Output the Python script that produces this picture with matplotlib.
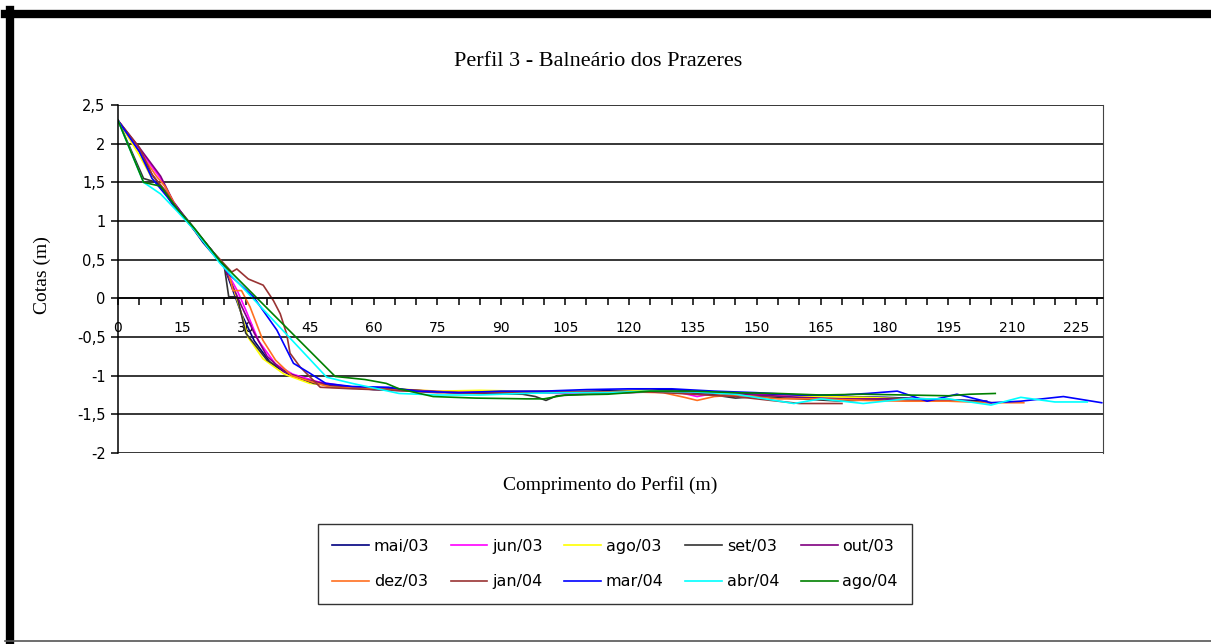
import matplotlib.pyplot as plt
from matplotlib.lines import Line2D

# dados (x em m, cota em m)
mai03_x = [0, 5, 8, 10, 13, 17, 20, 25, 27, 29, 32, 36, 40, 45, 50, 60, 70, 80, 90, 100, 110, 120, 130, 140, 150, 160, 170, 180, 190, 200, 204]
mai03_y = [2.3, 1.9, 1.6, 1.45, 1.2, 0.95, 0.72, 0.4, 0.1, -0.2, -0.55, -0.85, -0.98, -1.08, -1.13, -1.18, -1.2, -1.22, -1.22, -1.2, -1.2, -1.19, -1.18, -1.22, -1.24, -1.26, -1.27, -1.28, -1.3, -1.32, -1.33]

jun03_x = [0, 4, 8, 10, 13, 17, 21, 25, 27, 28, 30, 33, 37, 41, 47, 55, 65, 75, 85, 95, 105, 115, 125, 132, 136, 140, 150, 160]
jun03_y = [2.3, 2.0, 1.7, 1.55, 1.25, 0.95, 0.68, 0.4, 0.2, 0.1, -0.15, -0.55, -0.85, -0.98, -1.08, -1.15, -1.18, -1.2, -1.2, -1.22, -1.23, -1.22, -1.2, -1.22, -1.27, -1.23, -1.25, -1.27]

ago03_x = [0, 5, 8, 12, 17, 21, 25, 27, 29, 30.5, 34, 39, 45, 55, 65, 75, 85, 95, 105, 115, 125, 135, 145, 155, 165, 175, 185, 195]
ago03_y = [2.3, 1.85, 1.55, 1.3, 0.95, 0.68, 0.42, 0.15, -0.2, -0.5, -0.78, -0.98, -1.1, -1.15, -1.17, -1.2, -1.19, -1.2, -1.2, -1.21, -1.19, -1.22, -1.25, -1.27, -1.27, -1.28, -1.3, -1.3]

set03_x = [0, 6, 9, 12, 17, 22, 25, 26, 28, 30, 35, 40, 46, 55, 65, 75, 85, 95, 98, 100.5, 103, 110, 120, 130, 140, 145, 150, 160, 170, 180, 190, 200, 205]
set03_y = [2.3, 1.55, 1.5, 1.3, 0.97, 0.62, 0.4, 0.02, 0.02, -0.45, -0.8, -0.97, -1.1, -1.15, -1.17, -1.21, -1.23, -1.24, -1.27, -1.32, -1.26, -1.24, -1.21, -1.2, -1.25, -1.29, -1.27, -1.3, -1.33, -1.3, -1.32, -1.33, -1.35]

out03_x = [0, 5, 10, 13, 17, 22, 25, 27, 29, 32, 35, 39, 44, 50, 60, 70, 80, 90, 100, 110, 120, 130, 140, 150, 160, 170, 180, 190, 200]
out03_y = [2.3, 1.95, 1.58, 1.25, 0.95, 0.62, 0.4, 0.15, -0.1, -0.45, -0.75, -0.95, -1.05, -1.12, -1.17, -1.19, -1.22, -1.22, -1.22, -1.21, -1.22, -1.2, -1.23, -1.25, -1.28, -1.3, -1.3, -1.32, -1.33]

dez03_x = [0, 5, 9, 11, 14, 18, 22, 25.9, 27, 29, 31, 34, 37, 40.8, 46.7, 50, 60, 70, 80, 90, 100, 110, 120, 128, 133, 136, 140, 145, 155, 165, 175, 185, 195, 205, 212.7]
dez03_y = [2.3, 1.9, 1.58, 1.45, 1.15, 0.88, 0.62, 0.35, 0.1, 0.1, -0.11, -0.54, -0.8, -1.0, -1.1, -1.15, -1.17, -1.2, -1.22, -1.21, -1.2, -1.22, -1.21, -1.22, -1.28, -1.32, -1.27, -1.25, -1.3, -1.3, -1.32, -1.33, -1.33, -1.35, -1.35]

jan04_x = [0, 5, 8, 11, 14, 18, 22, 26.7, 27.9, 30.6, 34.1, 36.5, 38.1, 39.6, 40.4, 42.8, 47.5, 55, 65, 75, 85, 95, 105, 115, 125, 135, 145, 155, 160, 170]
jan04_y = [2.3, 1.95, 1.6, 1.4, 1.15, 0.88, 0.62, 0.34, 0.38, 0.25, 0.17, -0.03, -0.2, -0.46, -0.71, -0.89, -1.15, -1.17, -1.19, -1.22, -1.22, -1.21, -1.21, -1.22, -1.21, -1.24, -1.27, -1.33, -1.36, -1.36]

mar04_x = [0, 5, 8, 11, 14, 18, 22, 26.3, 31.8, 37.3, 41.2, 45.1, 48.8, 55, 63.5, 70, 80, 90, 100, 110, 120, 130, 140, 150, 160, 170, 176, 183, 190, 197, 205, 212, 222, 231]
mar04_y = [2.3, 1.9, 1.55, 1.35, 1.15, 0.88, 0.62, 0.3, 0.02, -0.41, -0.84, -0.97, -1.1, -1.14, -1.15, -1.2, -1.22, -1.2, -1.2, -1.18, -1.17, -1.17, -1.2, -1.22, -1.25, -1.25, -1.23, -1.2, -1.33, -1.24, -1.35, -1.33, -1.27, -1.35]

abr04_x = [0, 6, 10, 14, 18, 24, 49, 55, 66, 75, 85, 95, 105, 115, 125, 135, 145, 152, 158.7, 165, 175, 185, 195, 205, 212, 220, 227.6]
abr04_y = [2.3, 1.5, 1.35, 1.12, 0.88, 0.45, -1.02, -1.1, -1.23, -1.25, -1.25, -1.23, -1.22, -1.22, -1.2, -1.21, -1.24, -1.3, -1.36, -1.3, -1.36, -1.3, -1.3, -1.38, -1.28, -1.34, -1.34]

ago04_x = [0, 6, 10, 14, 18, 24, 51, 58, 63, 66, 74, 84, 96, 100, 105, 115, 125, 135, 145, 155, 165, 175, 185, 195, 200, 206]
ago04_y = [2.3, 1.5, 1.45, 1.15, 0.9, 0.48, -1.01, -1.05, -1.1, -1.17, -1.27, -1.29, -1.3, -1.3, -1.25, -1.24, -1.2, -1.2, -1.22, -1.23, -1.25, -1.24, -1.25, -1.26, -1.24, -1.23]

series_names = ["mai/03", "jun/03", "ago/03", "set/03", "out/03", "dez/03", "jan/04", "mar/04", "abr/04", "ago/04"]
series_x = [mai03_x, jun03_x, ago03_x, set03_x, out03_x, dez03_x, jan04_x, mar04_x, abr04_x, ago04_x]
series_y = [mai03_y, jun03_y, ago03_y, set03_y, out03_y, dez03_y, jan04_y, mar04_y, abr04_y, ago04_y]
cores = ["#000080", "#FF00FF", "#FFFF00", "#333333", "#800080", "#FF7020", "#993333", "#0000FF", "#00FFFF", "#008000"]

yticks = [2.5, 2, 1.5, 1, 0.5, 0, -0.5, -1, -1.5, -2]
ytick_labels = ["2,5", "2", "1,5", "1", "0,5", "0", "-0,5", "-1", "-1,5", "-2"]
xticks = list(range(0, 235, 5))
xtick_labels = [str(v) if v % 15 == 0 and v <= 225 else "" for v in xticks]

fig = plt.figure(figsize=(12.11, 6.44), dpi=100)
ax = fig.add_axes([118 / 1211, 1 - 453 / 644, (1103 - 118) / 1211, (453 - 105) / 644])

linhas = []
for xs, ys, nome, cor in zip(series_x, series_y, series_names, cores):
    l, = ax.plot(xs, ys, color=cor, lw=1.2, label=nome)
    linhas.append(l)

ax.set_xlim(0, 231.3)
ax.set_ylim(-2, 2.5)
ax.set_yticks(yticks)
ax.set_yticklabels(ytick_labels, fontsize=10.5)
ax.set_xticks(xticks)
ax.set_xticklabels(xtick_labels, fontsize=10.5)
ax.yaxis.grid(True, color="black", lw=1.1)
ax.set_axisbelow(True)

ax.spines["bottom"].set_position(("data", 0))
ax.spines["bottom"].set_linewidth(1.1)
ax.spines["left"].set_linewidth(1.1)
ax.spines["top"].set_visible(False)
ax.spines["right"].set_color("#444444")
ax.tick_params(axis="x", direction="out", length=5, width=1.1, pad=11)
ax.tick_params(axis="y", direction="out", length=5, width=1.1, pad=4)

fig.text(598 / 1211, 1 - 62 / 644, "Perfil 3 - Balneário dos Prazeres", ha="center", va="center",
         family="Liberation Serif", fontsize=16)
fig.text(610 / 1211, 1 - 485 / 644, "Comprimento do Perfil (m)", ha="center", va="center",
         family="Liberation Serif", fontsize=14)
fig.text(42 / 1211, 1 - 275 / 644, "Cotas (m)", ha="center", va="center", rotation=90,
         family="Liberation Serif", fontsize=14)

# legenda em linhas de 5 (matplotlib preenche por coluna)
ordem = [0, 5, 1, 6, 2, 7, 3, 8, 4, 9]
leg = fig.legend([linhas[i] for i in ordem], [series_names[i] for i in ordem],
                 loc="center", bbox_to_anchor=(615 / 1211, 1 - 564 / 644), ncol=5, fontsize=11.5,
                 frameon=True, fancybox=False, edgecolor="black", handlelength=2.3,
                 columnspacing=1.35, labelspacing=1.3, handletextpad=0.3, borderpad=0.9)
leg.get_frame().set_linewidth(1.0)

# moldura da pagina
fig.add_artist(Line2D([5 / 1211, 1], [1 - 14 / 644, 1 - 14 / 644], color="black", lw=6, transform=fig.transFigure))
fig.add_artist(Line2D([9.5 / 1211, 9.5 / 1211], [1 - 10 / 644, 1 - 641 / 644], color="black", lw=6, transform=fig.transFigure))
fig.add_artist(Line2D([5 / 1211, 1], [1 - 641 / 644, 1 - 641 / 644], color="#555555", lw=1.2, transform=fig.transFigure))

fig.savefig("out.png", dpi=100)
